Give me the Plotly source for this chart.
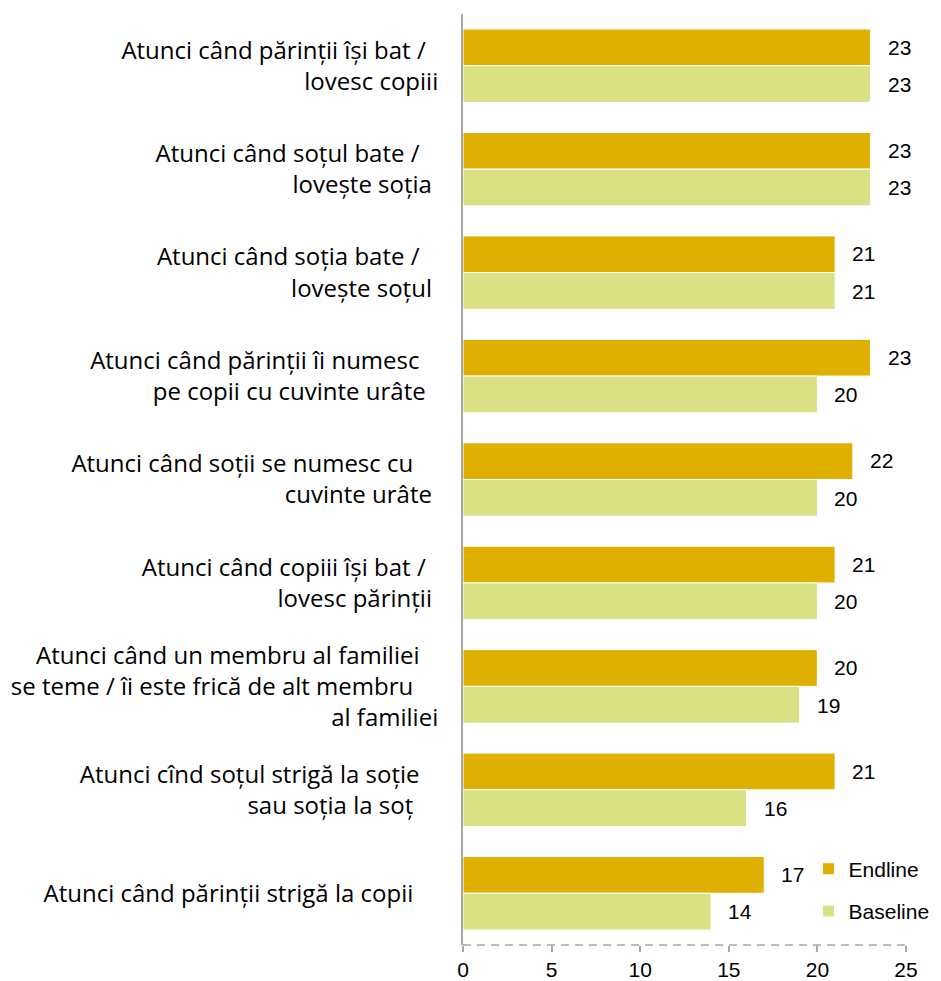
import plotly.graph_objects as go

categories = [
    ["Atunci când părinții își bat /", "lovesc copiii"],
    ["Atunci când soțul bate /", "lovește soția"],
    ["Atunci când soția bate /", "lovește soțul"],
    ["Atunci când părinții îi numesc", "pe copii cu cuvinte urâte"],
    ["Atunci când soții se numesc cu", "cuvinte urâte"],
    ["Atunci când copiii își bat /", "lovesc părinții"],
    ["Atunci când un membru al familiei", "se teme / îi este frică de alt membru", "al familiei"],
    ["Atunci cînd soțul strigă la soție", "sau soția la soț"],
    ["Atunci când părinții strigă la copii"],
]
endline = [23, 23, 21, 23, 22, 21, 20, 21, 17]
baseline = [23, 23, 21, 20, 20, 20, 19, 16, 14]
x_ticks = [0, 5, 10, 15, 20, 25]

# layout only: trailing non-breaking spaces per label line (right-edge offsets as in the reference)
label_pad = [[2, 0], [3, 1], [3, 1], [3, 2], [4, 1], [2, 1], [3, 4, 0], [3, 4], [4]]

C_END = "#DFB000"
C_BASE = "#DAE084"
GREY = "#A6A6A6"

cat_ids = ["<br>".join(lines) for lines in categories]
tick_text = ["<br>".join(l + "\u00a0" * p for l, p in zip(lines, pads))
             for lines, pads in zip(categories, label_pad)]

fig = go.Figure()
fig.add_trace(go.Bar(y=cat_ids, x=endline, name="Endline", orientation="h", legendgroup="e",
                     marker=dict(color=C_END, line=dict(color="white", width=1))))
fig.add_trace(go.Bar(y=cat_ids, x=baseline, name="Baseline", orientation="h", legendgroup="b",
                     marker=dict(color=C_BASE, line=dict(color="white", width=1))))

numfont = dict(family="Liberation Sans, Arial", size=21, color="black")
for i in range(len(cat_ids)):
    fig.add_annotation(x=endline[i], y=i - 0.18, xref="x", yref="y", text=str(endline[i]),
                       showarrow=False, xanchor="left", xshift=15, font=numfont)
    fig.add_annotation(x=baseline[i], y=i + 0.18, xref="x", yref="y", text=str(baseline[i]),
                       showarrow=False, xanchor="left", xshift=15, font=numfont)

fig.update_layout(
    width=933, height=973,
    margin=dict(l=455, r=35, t=6, b=36, autoexpand=False),
    paper_bgcolor="white", plot_bgcolor="white",
    barmode="group", bargap=0.29, bargroupgap=0.0,
    showlegend=True,
    legend=dict(x=0.78, y=0.059, xanchor="left", yanchor="middle",
                font=numfont, traceorder="grouped", tracegroupgap=12,
                bgcolor="rgba(0,0,0,0)"),
    xaxis=dict(range=[0, 25], tickvals=x_ticks, showgrid=False, zeroline=False,
               showline=False,
               ticks="outside", ticklen=6, tickcolor=GREY, tickwidth=1.5,
               tickfont=numfont),
    yaxis=dict(type="category", autorange="reversed", showgrid=False,
               tickvals=cat_ids, ticktext=tick_text,
               showline=True, linecolor=GREY, linewidth=2, ticks="",
               ticklabelstandoff=18,
               tickfont=dict(family="Open Sans", size=24, color="black")),
)
fig.add_shape(type="line", xref="paper", yref="paper", x0=0, x1=1, y0=0, y1=0,
              line=dict(color=GREY, width=1.5, dash="8px,6px"))
fig.write_html("out.html")
